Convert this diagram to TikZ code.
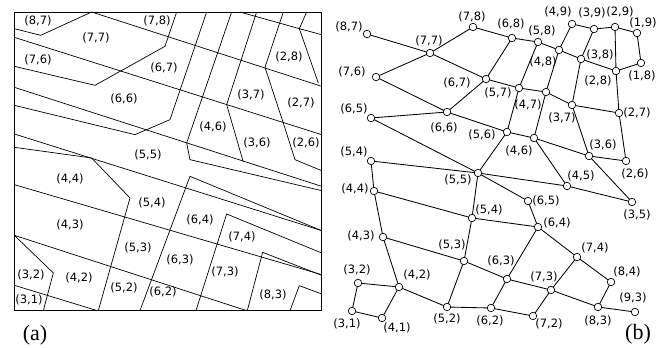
\documentclass[tikz,border=0pt]{standalone}
\usepackage{fontspec}
\newfontfamily\labfont{DejaVu Sans}
\newfontfamily\capfont{Liberation Serif}
\begin{document}
\begin{tikzpicture}[x=1pt,y=-1pt,
  cell/.style={line width=0.7pt,line join=round},
  edge/.style={line width=0.85pt},
  vtx/.style={circle,draw,fill=white,line width=0.7pt,minimum size=7.5pt,inner sep=0pt},
  lbl/.style={inner sep=0pt,font=\fontsize{11.5}{13}\labfont},
  captxt/.style={inner sep=0pt,font=\fontsize{22}{24}\capfont}]
\useasboundingbox (0,0) rectangle (667,348);
% ---------- panel (a) : drawn in 3x coordinates, offset (10,8) ----------
\begin{scope}[shift={(10,8)},x=0.3333pt,y=-0.3333pt]
\draw[cell] (13,12) rectangle (935,908);
\draw[cell] (13,62)--(92,82)--(245,12);
\draw[cell] (245,12)--(935,235);
\draw[cell] (13,88)--(935,380);
\draw[cell] (13,175)--(255,232)--(465,115)--(500,12);
\draw[cell] (13,238)--(935,535);
\draw[cell] (13,292)--(375,380)--(480,335)--(590,12);
\draw[cell] (13,378)--(935,668);
\draw[cell] (13,418)--(245,450)--(360,570)--(265,908);
\draw[cell] (13,530)--(935,800);
\draw[cell] (13,682)--(130,795)--(100,908);
\draw[cell] (13,682)--(710,908);
\draw[cell] (13,832)--(262,908);
\draw[cell] (935,668)--(540,505)--(390,908);
\draw[cell] (935,735)--(650,618)--(558,908);
\draw[cell] (935,802)--(758,733)--(712,908);
\draw[cell] (935,858)--(868,833)--(840,908);
\draw[cell] (665,12)--(530,405)--(540,455)--(935,548);
\draw[cell] (740,12)--(650,290)--(700,462);
\draw[cell] (820,12)--(765,178)--(820,345)--(855,455)--(935,488);
\draw[cell] (690,12)--(868,62)--(935,80);
\draw[cell] (890,12)--(868,62)--(925,225);
\end{scope}
\node[lbl] (a87) at (38,21) {(8,7)};
\node[lbl] (a78) at (157,21) {(7,8)};
\node[lbl] (a77) at (96,38) {(7,7)};
\node[lbl] (a76) at (38,60) {(7,6)};
\node[lbl] (a67) at (164,68) {(6,7)};
\node[lbl] (a66) at (124,99) {(6,6)};
\node[lbl] (a55) at (148,155) {(5,5)};
\node[lbl] (a46) at (213,127) {(4,6)};
\node[lbl] (a37) at (251,95) {(3,7)};
\node[lbl] (a28) at (289,57) {(2,8)};
\node[lbl] (a27) at (301,103) {(2,7)};
\node[lbl] (a36) at (257,143) {(3,6)};
\node[lbl] (a26) at (306,143) {(2,6)};
\node[lbl] (a44) at (70,179) {(4,4)};
\node[lbl] (a54) at (152,203) {(5,4)};
\node[lbl] (a43) at (70,225) {(4,3)};
\node[lbl] (a53) at (138,248) {(5,3)};
\node[lbl] (a32) at (31,275) {(3,2)};
\node[lbl] (a42) at (79,278) {(4,2)};
\node[lbl] (a52) at (124,288) {(5,2)};
\node[lbl] (a31) at (29,300) {(3,1)};
\node[lbl] (a62) at (163,292) {(6,2)};
\node[lbl] (a64) at (200,220) {(6,4)};
\node[lbl] (a74) at (242,237) {(7,4)};
\node[lbl] (a63) at (180,260) {(6,3)};
\node[lbl] (a73) at (225,272) {(7,3)};
\node[lbl] (a83) at (273,295) {(8,3)};
\node[captxt] (capa) at (35,335) {(a)};
% ---------- panel (b) ----------
\foreach \n/\x/\y in {87/367/34,77/430/53,78/473/27,76/376/77,67/486/79,66/447/112,
  65a/371/118,54a/371/161,56/507/132,57/519/88,47/546/92,46/534/138,55/478/173,
  68/512/38,58/538/42,49/572/24,39/594/29,29/615/27,19/637/33,48/559/50,38/581/59,
  28/616/71,18/641/63,37/572/105,27/619/113,36/589/156,26/626/161,45/567/186,
  35/632/202,65b/528/201,64/538/227,74/577/257,84/611/282,73/551/290,63/507/279,
  83/598/307,93/635/312,72/533/316,44/374/191,54b/472/218,43/383/237,53/464/261,
  32/358/283,42/399/287,31/352/311,41/382/318,52/447/307,62/491/308}
  {\coordinate (c\n) at (\x,\y);}
\foreach \a/\b in {87/77,77/78,77/76,77/67,76/66,66/67,65a/66,66/56,65a/55,54a/55,
  78/68,67/68,68/58,58/48,58/57,48/49,48/38,48/47,49/39,39/29,29/19,19/18,18/28,
  29/28,39/38,38/28,38/37,28/27,37/27,37/47,37/36,27/26,36/26,47/57,57/67,47/46,
  57/56,56/46,56/55,46/36,46/45,36/35,55/45,45/35,55/65b,55/54b,65b/64,54b/64,
  54b/53,44/54b,44/43,43/53,54a/44,53/63,63/73,64/63,64/74,74/84,74/73,84/83,
  73/83,83/93,73/72,62/72,63/62,53/52,52/62,42/52,43/42,32/42,32/31,31/41,41/42}
  {\draw[edge] (c\a)--(c\b);}
\foreach \n in {87,77,78,76,67,66,65a,54a,56,57,47,46,55,68,58,49,39,29,19,48,38,
  28,18,37,27,36,26,45,35,65b,64,74,84,73,63,83,93,72,44,54b,43,53,32,42,31,41,52,62}
  {\node[vtx] (v\n) at (c\n) {};}
\foreach \t/\x/\y in {{(8,7)}/349/27,{(7,7)}/429/41,{(7,8)}/472/17,{(7,6)}/352/72,
  {(6,7)}/457/83,{(6,6)}/444/128,{(6,5)}/354/109,{(5,4)}/354/152,{(5,6)}/482/135,
  {(5,7)}/498/93,{(4,7)}/528/105,{(4,6)}/519/151,{(5,5)}/458/180,{(6,8)}/511/24,
  {(5,8)}/542/31,{(4,9)}/558/12,{(3,9)}/592/13,{(2,9)}/620/12,{(1,9)}/643/23,
  {(4,8)}/543/62,{(3,8)}/600/55,{(2,8)}/598/81,{(1,8)}/642/76,{(3,7)}/562/118,
  {(2,7)}/637/113,{(3,6)}/603/145,{(2,6)}/635/174,{(4,5)}/581/176,{(3,5)}/637/215,
  {(6,5)}/546/201,{(6,4)}/557/223,{(7,4)}/595/248,{(8,4)}/627/272,{(7,3)}/544/277,
  {(6,3)}/501/261,{(8,3)}/598/321,{(9,3)}/633/298,{(7,2)}/549/324,{(4,4)}/355/189,
  {(5,4)}/489/210,{(4,3)}/361/236,{(5,3)}/452/245,{(3,2)}/357/270,{(4,2)}/417/275,
  {(3,1)}/347/324,{(4,1)}/397/328,{(5,2)}/447/319,{(6,2)}/490/321}
  {\node[lbl] at (\x,\y) {\t};}
\node[captxt] (capb) at (638,334) {(b)};
\end{tikzpicture}
\end{document}
